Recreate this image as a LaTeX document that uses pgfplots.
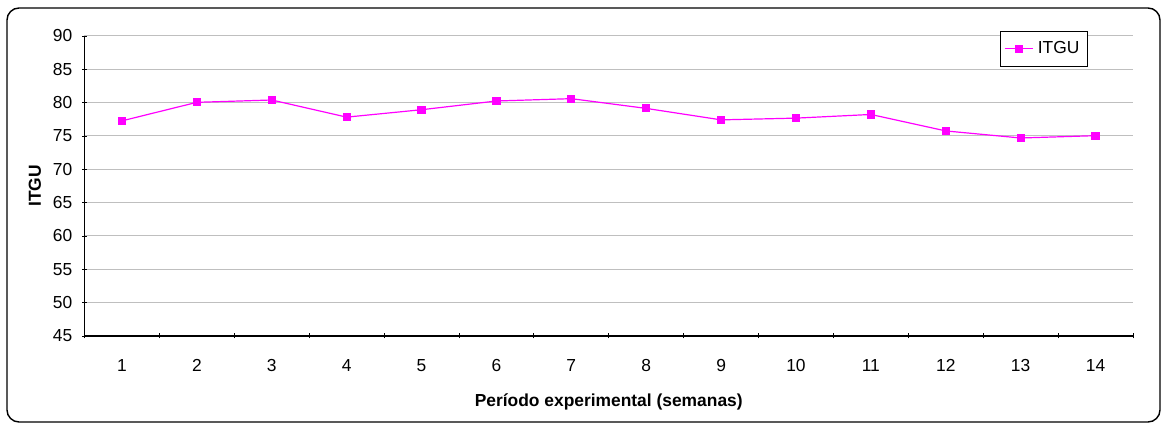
\documentclass[border=0pt]{standalone}
\usepackage{pgfplots}
\pgfplotsset{compat=1.18}
\usepackage{fontspec}
\setmainfont{Liberation Sans}
\definecolor{mag}{RGB}{255,0,255}
\begin{document}
\begin{tikzpicture}
\begin{axis}[
  name=ax,
  scale only axis,
  width=524.25pt, height=150pt,
  xmin=0.5, xmax=14.5,
  ymin=45, ymax=90,
  ytick={45,50,...,90},
  xtick={1,...,14},
  minor xtick={0.5,1.5,...,14.5},
  major x tick style={draw=none},
  minor x tick style={draw=black, thin},
  major tick length=2.2pt,
  minor tick length=2.5pt,
  tick align=outside,
  axis lines=left,
  axis line style={-, black, line width=0.6pt},
  ytick style={black, thin},
  ymajorgrids,
  major grid style={color=gray!50, line width=0.5pt},
  tick label style={font=\fontsize{8.7}{10}\selectfont},
  /pgf/number format/assume math mode=true,
  yticklabel style={xshift=-1.5pt},
  xticklabel style={yshift=-7pt},
  xlabel={\textbf{Período experimental (semanas)}},
  ylabel={\textbf{ITGU}},
  label style={font=\fontsize{8.7}{10}\selectfont},
  xlabel style={yshift=-4pt},
  ylabel style={yshift=-1pt},
  legend style={at={(0.957,1.018)}, anchor=north east, draw=black, line width=0.5pt,
    font=\fontsize{8.7}{10}\selectfont, inner xsep=2pt, inner ysep=3pt},
  legend cell align=left,
  legend image code/.code={\draw[mark repeat=2,mark phase=2] plot coordinates {(0cm,0cm) (0.25cm,0cm) (0.5cm,0cm)};},
  clip=false,
]
\addplot[color=mag, line width=0.6pt, mark=square*, mark size=1.75pt, mark options={fill=mag, draw=mag}]
coordinates {
(1,77.27) (2,80.05) (3,80.40) (4,77.83) (5,78.94) (6,80.25) (7,80.60)
(8,79.14) (9,77.42) (10,77.68) (11,78.23) (12,75.76) (13,74.70) (14,75.05)
};
\addlegendentry{ITGU}
\end{axis}
\draw[rounded corners=6pt, line width=0.7pt]
  ([xshift=-38.75pt,yshift=-43pt]ax.south west) rectangle ([xshift=13.5pt,yshift=14pt]ax.north east);
\path ([xshift=-42.25pt,yshift=-45.5pt]ax.south west) rectangle ([xshift=15pt,yshift=18pt]ax.north east);
\end{tikzpicture}
\end{document}
